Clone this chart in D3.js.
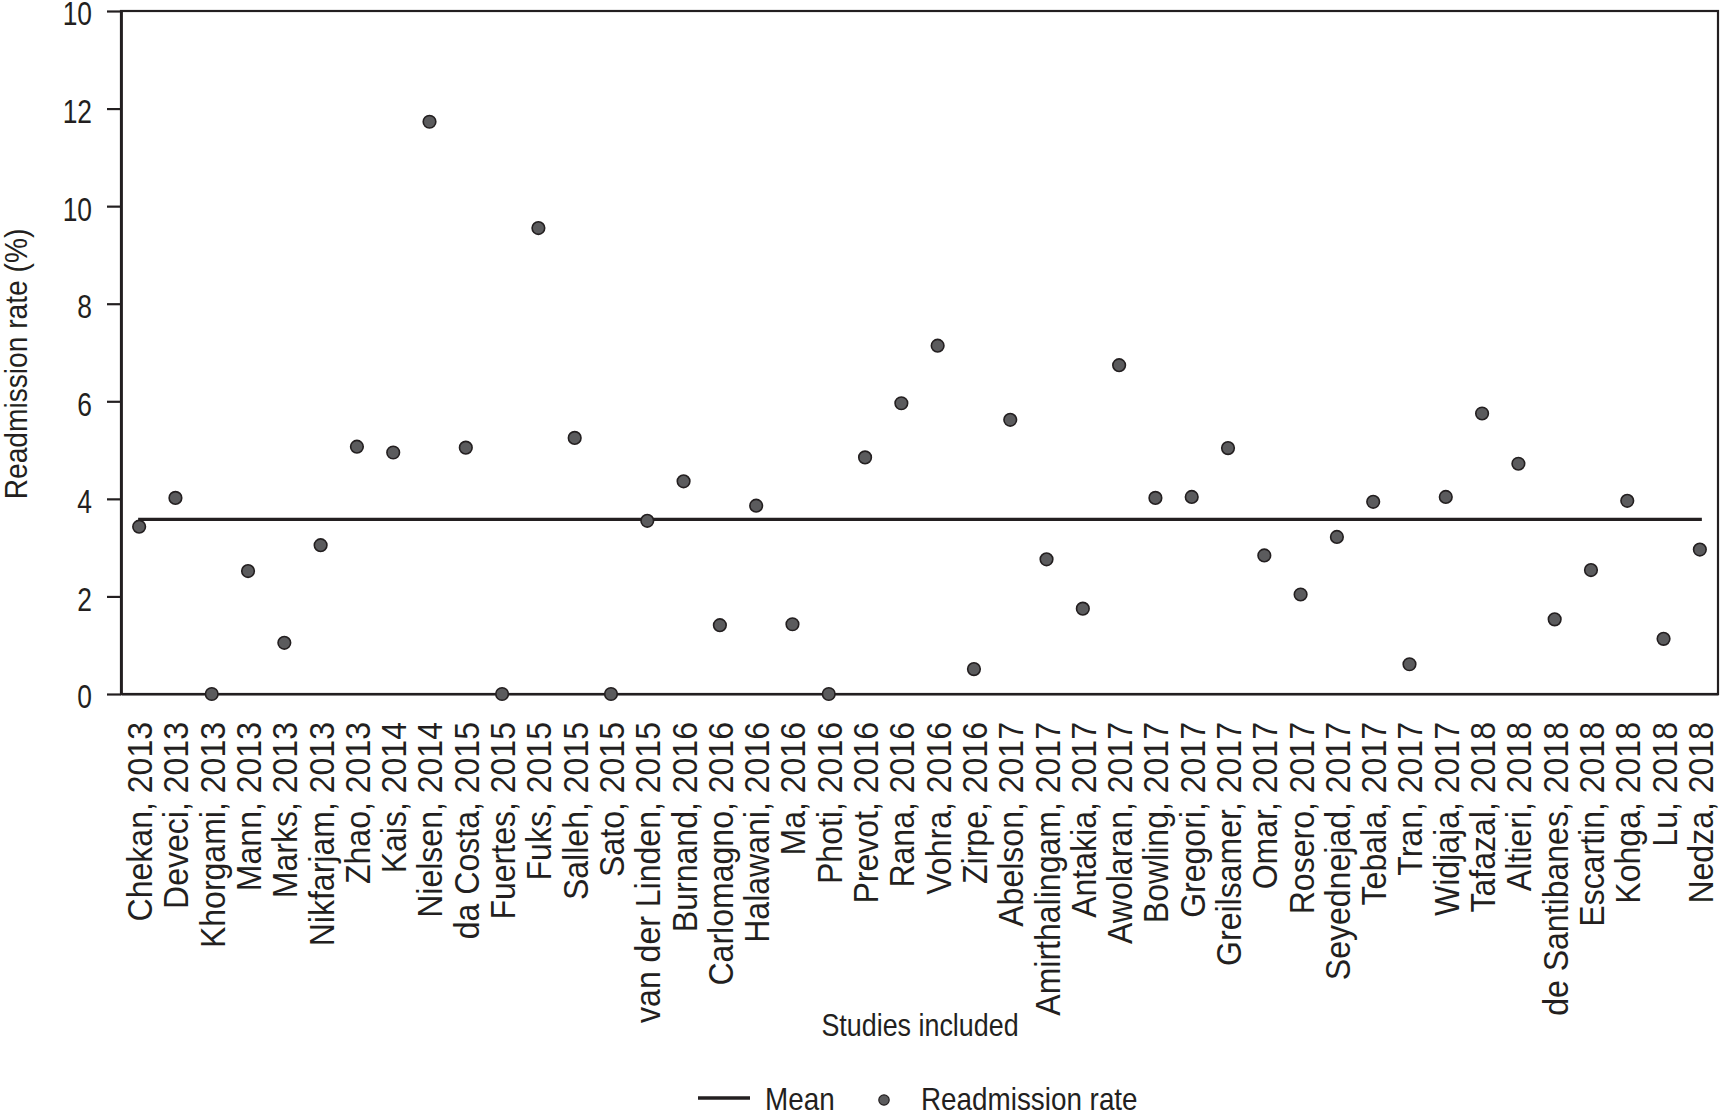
<!DOCTYPE html>
<html>
<head>
<meta charset="utf-8">
<script src="https://cdn.jsdelivr.net/npm/d3@7"></script>
<style>
  body { margin: 0; background: #fff; }
  svg text { font-family: "Liberation Sans", Arial, sans-serif; fill: #231f20; }
</style>
</head>
<body>
<svg id="chart" width="1730" height="1111"></svg>
<script>
const studies = [
  'Chekan, 2013','Deveci, 2013','Khorgami, 2013','Mann, 2013','Marks, 2013','Nikfarjam, 2013',
  'Zhao, 2013','Kais, 2014','Nielsen, 2014','da Costa, 2015','Fuertes, 2015','Fuks, 2015',
  'Salleh, 2015','Sato, 2015','van der Linden, 2015','Burnand, 2016','Carlomagno, 2016',
  'Halawani, 2016','Ma, 2016','Photi, 2016','Prevot, 2016','Rana, 2016','Vohra, 2016',
  'Zirpe, 2016','Abelson, 2017','Amirthalingam, 2017','Antakia, 2017','Awolaran, 2017',
  'Bowling, 2017','Gregori, 2017','Greilsamer, 2017','Omar, 2017','Rosero, 2017',
  'Seyednejad, 2017','Tebala, 2017','Tran, 2017','Widjaja, 2017','Tafazal, 2018',
  'Altieri, 2018','de Santibanes, 2018','Escartin, 2018','Kohga, 2018','Lu, 2018','Nedza, 2018'
]

const readmissionRate = [
  3.43, 4.02, 0, 2.52, 1.05, 3.05,
  5.07, 4.95, 11.73, 5.05, 0, 9.55,
  5.25, 0, 3.55, 4.36, 1.41,
  3.86, 1.43, 0, 4.85, 5.96, 7.14,
  0.51, 5.62, 2.76, 1.75, 6.74,
  4.02, 4.04, 5.04, 2.84, 2.04,
  3.22, 3.94, 0.61, 4.04, 5.75,
  4.72, 1.53, 2.54, 3.96, 1.13, 2.96
]

const meanRate = 3.58

const yTickValues = [0, 2, 4, 6, 8, 10, 12, 14]
const yTickLabels = ['0', '2', '4', '6', '8', '10', '12', '10']

const svg = d3.select('#chart')

const plotLeft = 121, plotRight = 1718, plotTop = 11, plotBottom = 694
const ink = '#231f20'
const dotFill = '#5b5b5d'

const yScale = d3.scaleLinear().domain([0, 14]).range([plotBottom, plotTop])
const xScale = d3.scalePoint().domain(studies).range([plotLeft, plotRight]).padding(0.5)

// frame
svg.append('rect')
  .attr('x', plotLeft).attr('y', plotTop)
  .attr('width', plotRight - plotLeft).attr('height', plotBottom - plotTop)
  .attr('fill', 'none').attr('stroke', ink).attr('stroke-width', 2.2)

// y axis (narrow text = squeezed sans)
const yAxis = svg.append('g')
  .attr('transform', 'translate(' + plotLeft + ',0)')
  .call(d3.axisLeft(yScale).tickValues(yTickValues)
    .tickFormat((d, i) => yTickLabels[i]).tickSize(14).tickSizeOuter(0).tickPadding(15))
yAxis.select('.domain').attr('stroke', ink).attr('stroke-width', 2.8)
yAxis.selectAll('.tick line').attr('stroke', ink).attr('stroke-width', 2.2)
yAxis.selectAll('.tick text')
  .attr('x', null)
  .attr('dy', '0.42em')
  .attr('transform', 'translate(-29,0) scale(0.8,1)')
  .style('font-size', '33px')
  .attr('fill', ink)

// x axis line
const xAxis = svg.append('g')
  .attr('transform', 'translate(0,' + plotBottom + ')')
  .call(d3.axisBottom(xScale).tickSize(0).tickSizeOuter(0).tickFormat(''))
xAxis.select('.domain').attr('stroke', ink).attr('stroke-width', 2.2)

// category labels
svg.append('g').selectAll('text.study')
  .data(studies)
  .enter()
  .append('text')
  .attr('class', 'study')
  .attr('transform', d => 'translate(' + xScale(d) + ',722) rotate(-90) scale(0.89,1)')
  .attr('dy', '0.36em')
  .attr('text-anchor', 'end')
  .style('font-size', '36px')
  .text(d => d)

// axis titles
svg.append('text')
  .attr('transform', 'translate(27,364) rotate(-90) scale(0.88,1)')
  .attr('text-anchor', 'middle')
  .style('font-size', '32px')
  .text('Readmission rate (%)')

svg.append('text')
  .attr('transform', 'translate(920,1036) scale(0.84,1)')
  .attr('text-anchor', 'middle')
  .style('font-size', '32px')
  .text('Studies included')

// mean line
svg.append('line')
  .attr('x1', xScale(studies[0]) - 1).attr('x2', xScale(studies[studies.length - 1]) + 2)
  .attr('y1', yScale(meanRate)).attr('y2', yScale(meanRate))
  .attr('stroke', ink).attr('stroke-width', 3.4)

// points
svg.append('g').selectAll('circle')
  .data(studies)
  .enter()
  .append('circle')
  .attr('cx', d => xScale(d))
  .attr('cy', (d, i) => yScale(readmissionRate[i]))
  .attr('r', 6.3)
  .attr('fill', dotFill)
  .attr('stroke', ink)
  .attr('stroke-width', 1.6)

// legend
const legend = svg.append('g')
legend.append('line')
  .attr('x1', 698).attr('x2', 750).attr('y1', 1098).attr('y2', 1098)
  .attr('stroke', ink).attr('stroke-width', 3.4)
legend.append('text')
  .attr('transform', 'translate(765,1110) scale(0.87,1)')
  .style('font-size', '32px')
  .text('Mean')
legend.append('circle')
  .attr('cx', 884).attr('cy', 1100).attr('r', 5.2)
  .attr('fill', dotFill).attr('stroke', ink).attr('stroke-width', 1.2)
legend.append('text')
  .attr('transform', 'translate(921,1110) scale(0.87,1)')
  .style('font-size', '32px')
  .text('Readmission rate')
</script>
</body>
</html>
